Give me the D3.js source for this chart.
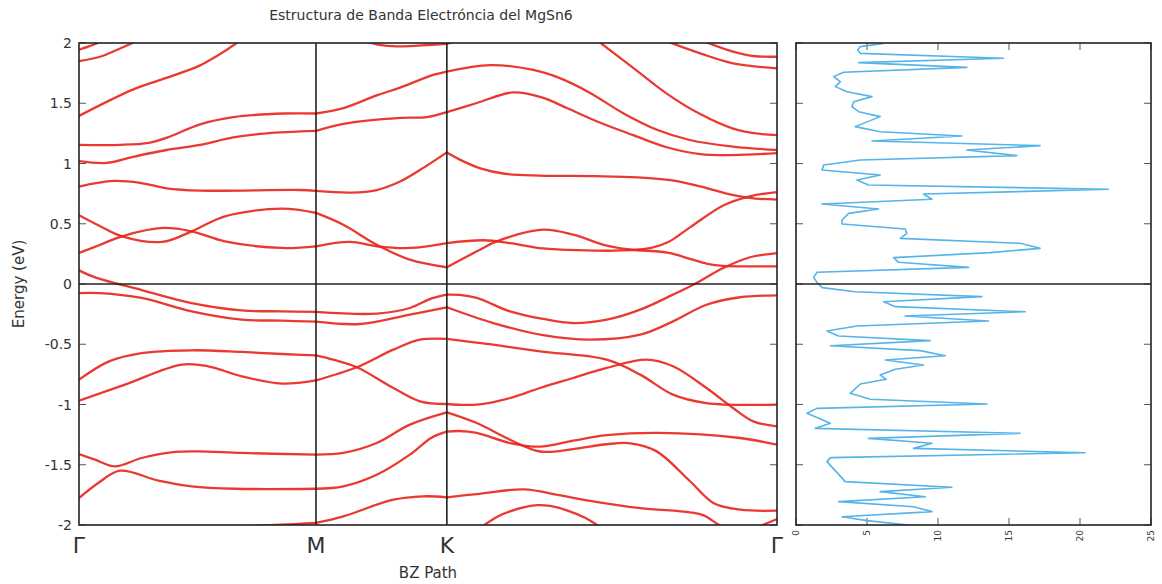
<!DOCTYPE html>
<html>
<head>
<meta charset="utf-8">
<script src="https://cdn.jsdelivr.net/npm/d3@7"></script>
<style>
body { margin: 0; background: #fff; }
text { font-family: "DejaVu Sans", sans-serif; fill: #333; }
</style>
</head>
<body>
<svg id="chart" width="1162" height="584"></svg>
<script>
"use strict";

//k path and ticks
const kLabels = ["Γ", "M", "K", "Γ"];
const kTicks = [0, 0.3395, 0.527, 1];
const energyTicks = [-2, -1.5, -1, -0.5, 0, 0.5, 1, 1.5, 2];
const dosTicks = [0, 5, 10, 15, 20, 25];

//bands, [k, E]
const band01 = [[0,1.944],[0.014,1.972],[0.027,2.0],[0.04,2.03]];
const band02 = [[0,1.85],[0.03,1.886],[0.054,1.942],[0.077,2.0],[0.09,2.03]];
const band03 = [[0,1.395],[0.078,1.615],[0.125,1.71],[0.172,1.81],[0.197,1.89],[0.226,2.0],[0.24,2.06]];
const band04 = [[0,1.155],[0.06,1.155],[0.1,1.172],[0.126,1.215],[0.1734,1.325],[0.221,1.385],[0.293,1.415],[0.3395,1.415],
	[0.379,1.46],[0.4265,1.565],[0.46,1.63],[0.5075,1.735],[0.527,1.763],
	[0.589,1.817],[0.651,1.776],[0.688,1.71],[0.731,1.59],[0.779,1.42],[0.828,1.28],[0.875,1.195],[0.937,1.14],[1,1.112]];
const band05 = [[0,1.02],[0.0397,1.005],[0.0778,1.056],[0.1256,1.112],[0.1734,1.154],[0.221,1.217],[0.269,1.25],[0.3395,1.27],
	[0.3787,1.328],[0.46,1.378],[0.498,1.385],[0.527,1.427],
	[0.57,1.502],[0.622,1.59],[0.665,1.545],[0.699,1.46],[0.746,1.34],[0.794,1.235],[0.842,1.135],[0.89,1.078],[0.937,1.07],[1,1.086]];
const band06 = [[0,0.808],[0.049,0.855],[0.0874,0.84],[0.1256,0.794],[0.1734,0.775],[0.3166,0.78],[0.3395,0.772],
	[0.39,0.758],[0.4265,0.78],[0.46,0.85],[0.495,0.97],[0.527,1.092],
	[0.55,1.02],[0.575,0.96],[0.61,0.915],[0.66,0.9],[0.74,0.895],[0.80,0.885],[0.85,0.86],[0.89,0.81],[0.925,0.755],[0.96,0.715],[1,0.70]];
const band07 = [[0,0.57],[0.0304,0.479],[0.0617,0.396],[0.119,0.349],[0.1614,0.437],[0.209,0.562],[0.2904,0.625],[0.3395,0.59],
	[0.3787,0.492],[0.4265,0.326],[0.474,0.202],[0.527,0.139],
	[0.57,0.271],[0.5984,0.354],[0.665,0.451],[0.708,0.409],[0.756,0.318],[0.794,0.286],[0.82,0.3],[0.845,0.35],[0.8754,0.47],
	[0.923,0.652],[0.961,0.728],[1,0.763]];
const band08 = [[0,0.257],[0.0304,0.326],[0.0617,0.396],[0.1208,0.465],[0.1614,0.437],[0.209,0.354],[0.2904,0.299],[0.3395,0.313],
	[0.3883,0.349],[0.4265,0.313],[0.474,0.299],[0.527,0.34],
	[0.5793,0.363],[0.6175,0.34],[0.665,0.295],[0.756,0.276],[0.80,0.28],[0.845,0.258],[0.8754,0.208],[0.90,0.168],
	[0.923,0.15],[0.96,0.147],[1,0.147]];
const band09 = [[0,0.113],[0.023,0.055],[0.0898,-0.05],[0.1614,-0.158],[0.2331,-0.219],[0.2904,-0.227],[0.3395,-0.232],
	[0.4265,-0.246],[0.474,-0.199],[0.505,-0.12],[0.527,-0.088],
	[0.545,-0.09],[0.57,-0.116],[0.6175,-0.227],[0.665,-0.29],[0.708,-0.324],[0.756,-0.296],[0.804,-0.213],[0.851,-0.088],[0.88,-0.006],[0.923,0.133],[0.96,0.22],[1,0.257]];
const band10 = [[0,-0.075],[0.0304,-0.075],[0.0898,-0.116],[0.1614,-0.227],[0.2331,-0.296],[0.2904,-0.304],[0.3395,-0.313],
	[0.4025,-0.332],[0.474,-0.254],[0.527,-0.193],
	[0.5936,-0.324],[0.665,-0.425],[0.732,-0.462],[0.804,-0.421],[0.851,-0.31],[0.899,-0.172],[0.947,-0.11],[1,-0.094]];
const band11 = [[0,-0.794],[0.043,-0.642],[0.0898,-0.573],[0.1614,-0.55],[0.2331,-0.564],[0.2904,-0.581],[0.3395,-0.592],
	[0.3644,-0.628],[0.398,-0.691],[0.4503,-0.863],[0.4885,-0.974],[0.527,-0.996],
	[0.5698,-1.001],[0.6175,-0.946],[0.6605,-0.863],[0.708,-0.78],[0.756,-0.697],[0.813,-0.628],[0.851,-0.683],[0.899,-0.863],[0.937,-1.029],[0.966,-1.14],[1,-1.181]];
const band12 = [[0,-0.968],[0.0659,-0.835],[0.1471,-0.669],[0.185,-0.683],[0.2331,-0.766],[0.2904,-0.827],[0.3395,-0.80],
	[0.398,-0.691],[0.4503,-0.545],[0.4885,-0.462],[0.527,-0.456],
	[0.5936,-0.504],[0.6605,-0.559],[0.756,-0.628],[0.804,-0.752],[0.851,-0.918],[0.899,-0.988],[1,-1.001]];
const band13 = [[0,-1.411],[0.023,-1.458],[0.0516,-1.513],[0.0898,-1.444],[0.1375,-1.394],[0.1709,-1.389],[0.2331,-1.402],[0.3395,-1.416],
	[0.3787,-1.402],[0.4265,-1.32],[0.474,-1.167],[0.527,-1.065],
	[0.57,-1.154],[0.6175,-1.292],[0.6605,-1.39],[0.708,-1.37],[0.756,-1.33],[0.79,-1.322],[0.8276,-1.389],[0.8754,-1.637],[0.9088,-1.817],[0.947,-1.873],[1,-1.881]];
const band14 = [[0,-1.776],[0.0276,-1.651],[0.0587,-1.549],[0.1138,-1.632],[0.1614,-1.679],[0.2235,-1.699],[0.3395,-1.699],
	[0.3787,-1.679],[0.4265,-1.583],[0.474,-1.416],[0.505,-1.275],[0.527,-1.225],
	[0.545,-1.22],[0.5698,-1.236],[0.6175,-1.32],[0.6605,-1.35],[0.708,-1.30],[0.756,-1.255],[0.83,-1.236],[0.947,-1.278],[1,-1.334]];
const band15 = [[0.252,-2.005],[0.29,-1.998],[0.3395,-1.983],
	[0.3787,-1.928],[0.4503,-1.79],[0.493,-1.762],[0.527,-1.77],
	[0.57,-1.743],[0.637,-1.705],[0.69,-1.755],[0.732,-1.80],[0.804,-1.86],[0.8754,-1.895],[0.895,-1.92],[0.917,-2.0],[0.93,-2.04]];
const band16 = [[0.578,-2.01],[0.6,-1.93],[0.6175,-1.887],[0.64,-1.85],[0.657,-1.835],[0.675,-1.842],[0.7,-1.88],[0.725,-1.94],[0.745,-2.01]];
const band17 = [[0.977,-2.005],[0.99,-1.975],[1,-1.95]];
const band18 = [[0.41,2.015],[0.43,1.985],[0.455,1.972],[0.49,1.98],[0.527,1.992],[0.537,2.01]];
const band19 = [[0.745,2.01],[0.7926,1.80],[0.842,1.58],[0.89,1.41],[0.937,1.29],[0.976,1.245],[1,1.236]];
const band20 = [[0.844,2.01],[0.89,1.914],[0.937,1.831],[1,1.79]];
const band21 = [[0.897,2.01],[0.937,1.928],[0.966,1.892],[1,1.886]];

const bands = [band01, band02, band03, band04, band05, band06, band07, band08, band09, band10, band11,
	band12, band13, band14, band15, band16, band17, band18, band19, band20, band21];

//density of states, [E, states]
const dosCurve = [[1.997,6.17],[1.970,4.53],[1.942,4.34],[1.914,4.53],[1.873,14.61],[1.837,4.41],[1.798,12.03],[1.757,3.35],
	[1.721,2.65],[1.679,3.12],[1.638,2.77],[1.596,3.59],[1.555,5.35],[1.513,4.06],[1.472,3.94],[1.430,4.41],[1.389,5.93],
	[1.306,4.17],[1.264,5.93],[1.228,11.68],[1.187,5.35],[1.148,17.19],[1.112,12.03],[1.065,15.55],[1.029,4.53],[0.988,1.95],
	[0.946,1.83],[0.905,5.93],[0.863,4.29],[0.822,5.11],[0.786,22.0],[0.747,8.98],[0.703,9.57],[0.664,1.83],[0.622,5.82],
	[0.586,3.71],[0.531,3.24],[0.498,3.24],[0.456,7.69],[0.420,7.81],[0.379,7.34],[0.338,15.78],[0.296,17.19],[0.260,13.67],
	[0.219,6.87],[0.180,7.22],[0.138,12.15],[0.097,1.48],[0.055,1.24],[0.01,1.5],[-0.03,1.85],[-0.064,4.17],[-0.105,13.09],
	[-0.147,6.17],[-0.188,6.99],[-0.230,16.14],[-0.266,7.69],[-0.307,13.56],[-0.349,4.29],[-0.390,2.18],[-0.432,3.0],
	[-0.470,9.45],[-0.512,2.42],[-0.553,8.75],[-0.595,10.51],[-0.631,6.29],[-0.672,8.98],[-0.708,6.99],[-0.755,5.93],
	[-0.791,6.36],[-0.830,4.53],[-0.907,3.82],[-0.957,5.23],[-0.996,13.44],[-1.032,1.48],[-1.073,0.77],[-1.156,2.42],
	[-1.198,1.36],[-1.239,15.78],[-1.281,5.11],[-1.322,9.57],[-1.364,8.28],[-1.400,20.36],[-1.441,2.42],[-1.474,2.18],
	[-1.640,3.47],[-1.687,10.98],[-1.723,5.93],[-1.765,9.10],[-1.806,3.0],[-1.848,8.28],[-1.889,9.57],[-1.931,3.24],
	[-1.964,5.0],[-2.008,8.51]];

//layout
const band_box = {left: 79, right: 777, top: 43, bottom: 525};
const dos_box = {left: 796, right: 1151, top: 43, bottom: 525};

let svg = d3.select("svg#chart");

let x = d3.scaleLinear().domain([0, 1]).range([band_box.left, band_box.right]);
let y = d3.scaleLinear().domain([-2, 2]).range([band_box.bottom, band_box.top]);
let xd = d3.scaleLinear().domain([0, 25]).range([dos_box.left, dos_box.right]);

let defs = svg.append("defs");
defs.append("clipPath").attr("id", "clip-bands").append("rect")
	.attr("x", band_box.left).attr("y", band_box.top)
	.attr("width", band_box.right - band_box.left).attr("height", band_box.bottom - band_box.top);
defs.append("clipPath").attr("id", "clip-dos").append("rect")
	.attr("x", dos_box.left).attr("y", dos_box.top)
	.attr("width", dos_box.right - dos_box.left).attr("height", dos_box.bottom - dos_box.top);

//title and labels
svg.append("text")
	.attr("x", 421).attr("y", 20)
	.attr("text-anchor", "middle")
	.attr("font-size", 14)
	.text("Estructura de Banda Electróncia del MgSn6");

svg.append("text")
	.attr("transform", "translate(24," + y(0) + ") rotate(-90)")
	.attr("text-anchor", "middle")
	.attr("font-size", 15)
	.text("Energy (eV)");

svg.append("text")
	.attr("x", 428).attr("y", 578)
	.attr("text-anchor", "middle")
	.attr("font-size", 15)
	.text("BZ Path");

//band panel ticks
let ticks = svg.append("g").attr("stroke", "#555").attr("stroke-width", 1);
for (let e of energyTicks)
{
	ticks.append("line").attr("x1", band_box.left).attr("x2", band_box.left + 7).attr("y1", y(e)).attr("y2", y(e));
	ticks.append("line").attr("x1", band_box.right - 7).attr("x2", band_box.right).attr("y1", y(e)).attr("y2", y(e));
	ticks.append("line").attr("x1", dos_box.left).attr("x2", dos_box.left + 7).attr("y1", y(e)).attr("y2", y(e));
	ticks.append("line").attr("x1", dos_box.right - 7).attr("x2", dos_box.right).attr("y1", y(e)).attr("y2", y(e));
}
for (let d of dosTicks)
{
	ticks.append("line").attr("x1", xd(d)).attr("x2", xd(d)).attr("y1", dos_box.top).attr("y2", dos_box.top + 7);
	ticks.append("line").attr("x1", xd(d)).attr("x2", xd(d)).attr("y1", dos_box.bottom - 7).attr("y2", dos_box.bottom);
}

svg.append("g").selectAll("text").data(energyTicks).join("text")
	.attr("x", band_box.left - 7)
	.attr("y", function(d) { return y(d); })
	.attr("dy", "0.36em")
	.attr("text-anchor", "end")
	.attr("font-size", 14)
	.text(function(d) { return d; });

svg.append("g").selectAll("text").data(kTicks).join("text")
	.attr("x", function(d) { return x(d); })
	.attr("y", 553)
	.attr("text-anchor", "middle")
	.attr("font-size", 22)
	.attr("fill", "#111")
	.text(function(d, i) { return kLabels[i]; });

svg.append("g").selectAll("text").data(dosTicks).join("text")
	.attr("transform", function(d) { return "translate(" + xd(d) + "," + (dos_box.bottom + 5) + ") rotate(-90)"; })
	.attr("dy", "0.35em")
	.attr("text-anchor", "end")
	.attr("font-size", 9)
	.attr("fill", "#444")
	.text(function(d) { return d; });

//bands, one path per k segment so the high symmetry points stay sharp
let path_func = d3.line()
	.x(function(d) { return x(d[0]); })
	.y(function(d) { return y(d[1]); })
	.curve(d3.curveCatmullRom.alpha(0.5));

let band_layer = svg.append("g")
	.attr("clip-path", "url(#clip-bands)")
	.attr("fill", "none")
	.attr("stroke", "#e8231b")
	.attr("stroke-opacity", 0.9)
	.attr("stroke-width", 2.3)
	.attr("stroke-linecap", "round")
	.attr("stroke-linejoin", "round");

for (let band of bands)
{
	for (let s = 0; s < kTicks.length - 1; ++s)
	{
		let a = kTicks[s] - 1e-6, b = kTicks[s + 1] + 1e-6;
		let part = band.filter(function(p) { return p[0] >= a && p[0] <= b; });
		if (part.length < 2) continue;
		band_layer.append("path").attr("d", path_func(part));
	}
}

//dos curve
svg.append("g")
	.attr("clip-path", "url(#clip-dos)")
	.append("path")
	.attr("fill", "none")
	.attr("stroke", "#56b4e9")
	.attr("stroke-width", 1.6)
	.attr("stroke-linejoin", "round")
	.attr("d", d3.line()
		.x(function(d) { return xd(d[1]); })
		.y(function(d) { return y(d[0]); })(dosCurve));

//frames, symmetry lines, fermi level
let frame = svg.append("g").attr("stroke", "#222").attr("stroke-width", 1.6).attr("fill", "none");
frame.append("rect")
	.attr("x", band_box.left).attr("y", band_box.top)
	.attr("width", band_box.right - band_box.left).attr("height", band_box.bottom - band_box.top);
frame.append("rect")
	.attr("x", dos_box.left).attr("y", dos_box.top)
	.attr("width", dos_box.right - dos_box.left).attr("height", dos_box.bottom - dos_box.top);
for (let k of kTicks.slice(1, -1))
{
	frame.append("line").attr("x1", x(k)).attr("x2", x(k)).attr("y1", band_box.top).attr("y2", band_box.bottom);
}
frame.append("line").attr("x1", band_box.left).attr("x2", band_box.right).attr("y1", y(0)).attr("y2", y(0));
frame.append("line").attr("x1", dos_box.left).attr("x2", dos_box.right).attr("y1", y(0)).attr("y2", y(0));
</script>
</body>
</html>
